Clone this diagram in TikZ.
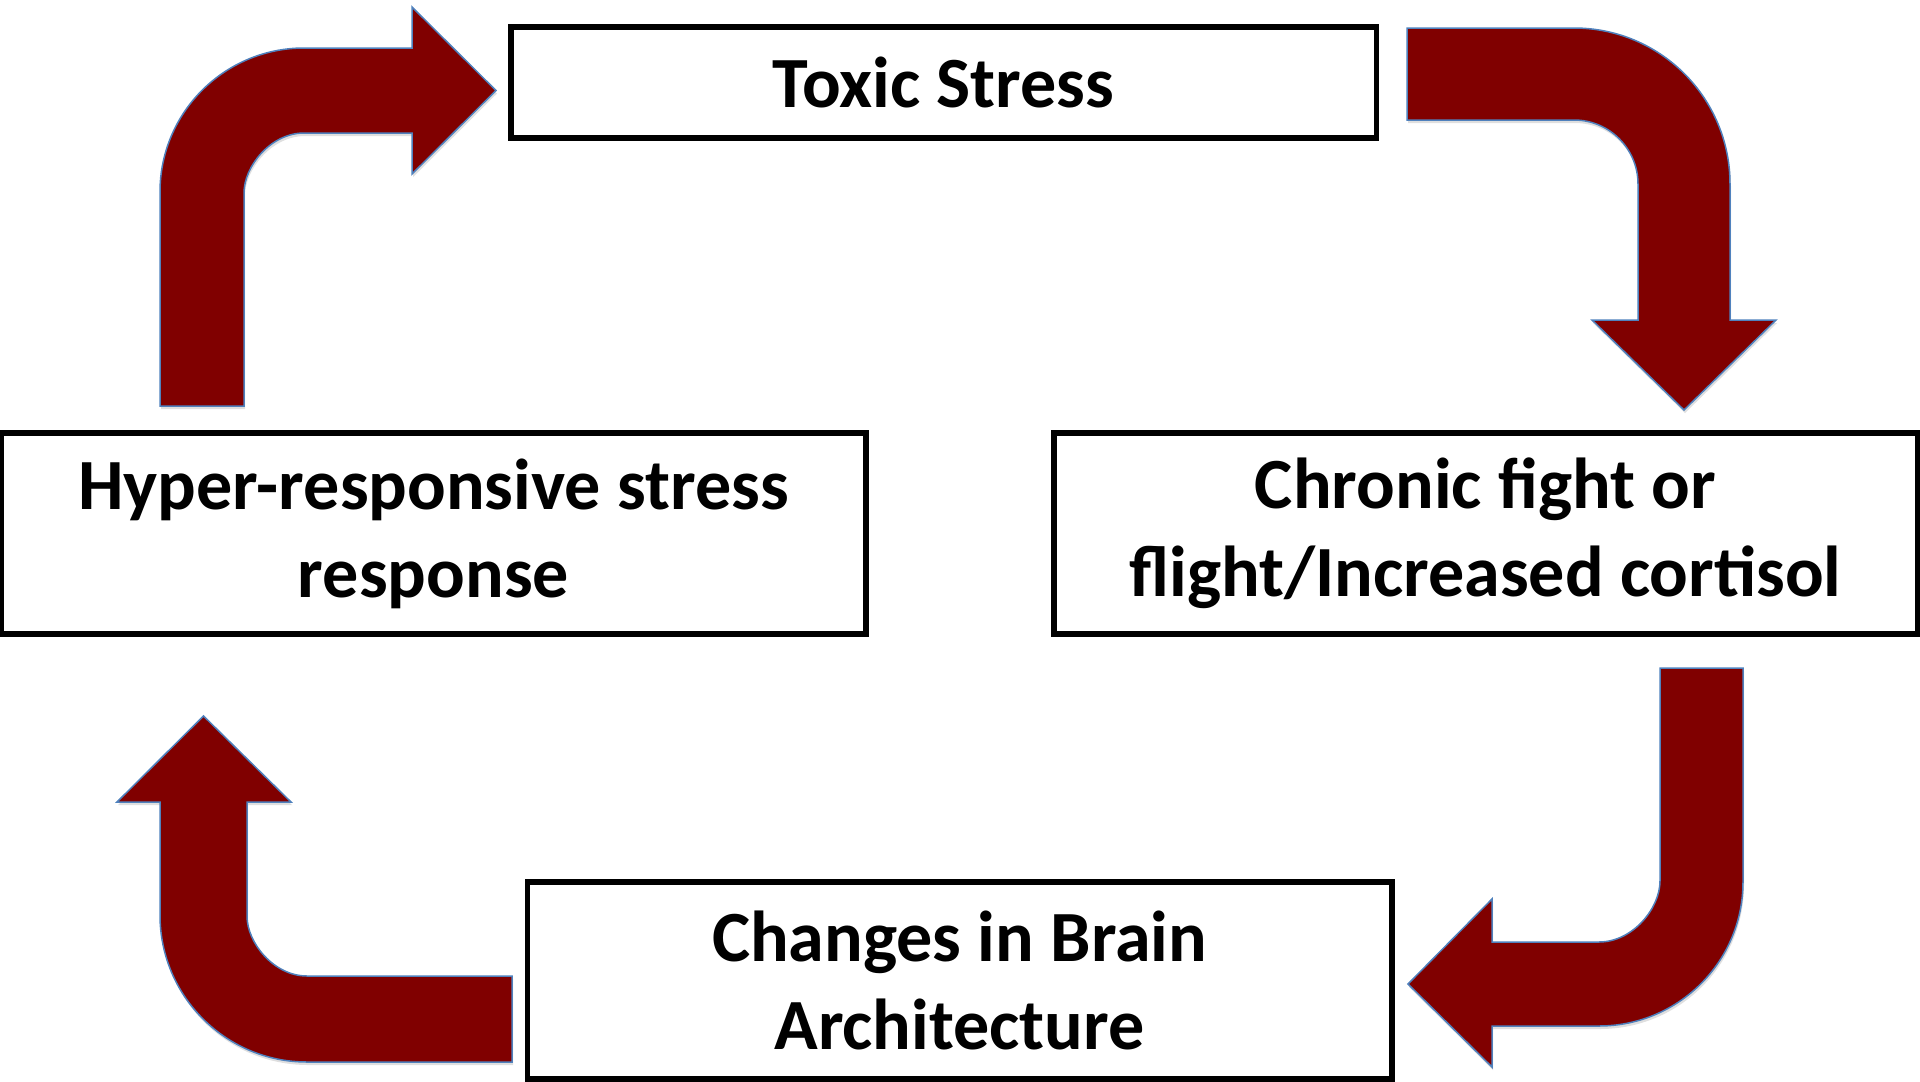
\documentclass[tikz,border=0pt]{standalone}
\usepackage{fontspec}
\setmainfont{Carlito}
\usetikzlibrary{shadows}
\definecolor{arrowred}{RGB}{128,0,0}
\definecolor{arrowedge}{RGB}{79,129,189}
\tikzset{
  box/.style={draw=black, line width=0.055cm, fill=white, inner sep=0pt, align=center,
    font=\fontsize{20.5pt}{25pt}\selectfont\bfseries},
  bentarrow/.style={fill=arrowred, draw=arrowedge, line width=0.015cm, line join=miter,
    drop shadow={shadow xshift=0.01cm, shadow yshift=-0.03cm, opacity=0.25}}
}
\begin{document}
\begin{tikzpicture}[x=0.01cm,y=-0.01cm]
\useasboundingbox (0,0) rectangle (1920,1081);

% boxes
\node[box, minimum width=8.65cm, minimum height=1.11cm] (toxic) at (943.5,82.5) {Toxic Stress};
\node[box, minimum width=8.64cm, minimum height=2.01cm] (hyper) at (433.5,533.5) {Hyper-responsive stress\\response};
\node[box, minimum width=8.63cm, minimum height=2.01cm] (chronic) at (1485.5,533.5) {Chronic fight or\\flight/Increased cortisol};
\node[box, minimum width=8.64cm, minimum height=1.97cm] (brain) at (959.5,980.5) {Changes in Brain\\Architecture};

% arrow: hyper -> toxic (up, then right)
\path[bentarrow] (160,406) -- (160,192)
  .. controls (160,112.5) and (224.5,48) .. (304,48)
  -- (412,48) -- (412,7) -- (496,90.5) -- (412,174) -- (412,133) -- (304,133)
  .. controls (271,133) and (244,166) .. (244,193)
  -- (244,406) -- cycle;

% arrow: toxic -> chronic (right, then down)
\path[bentarrow] (1407,28) -- (1574,28)
  .. controls (1660.2,28) and (1730,97.8) .. (1730,184)
  -- (1730,320) -- (1776,320) -- (1684,410) -- (1592,320) -- (1638,320) -- (1638,184)
  .. controls (1638,148.7) and (1609.3,120) .. (1574,120)
  -- (1407,120) -- cycle;

% arrow: chronic -> brain (down, then left)
\path[bentarrow] (1660,668) -- (1743,668) -- (1743,882)
  .. controls (1743,961.5) and (1678.5,1026) .. (1599,1026)
  -- (1492,1026) -- (1492,1067) -- (1408,984) -- (1492,899) -- (1492,942) -- (1599,942)
  .. controls (1632.7,942) and (1660,908.3) .. (1660,881)
  -- cycle;

% arrow: brain -> hyper (left, then up)
\path[bentarrow] (512,976) -- (307,976)
  .. controls (273.9,976) and (247,942.9) .. (247,916)
  -- (247,802) -- (291,802) -- (203.5,716) -- (117,802) -- (160,802) -- (160,915)
  .. controls (160,996.2) and (225.8,1062) .. (307,1062)
  -- (512,1062) -- cycle;
\end{tikzpicture}
\end{document}
